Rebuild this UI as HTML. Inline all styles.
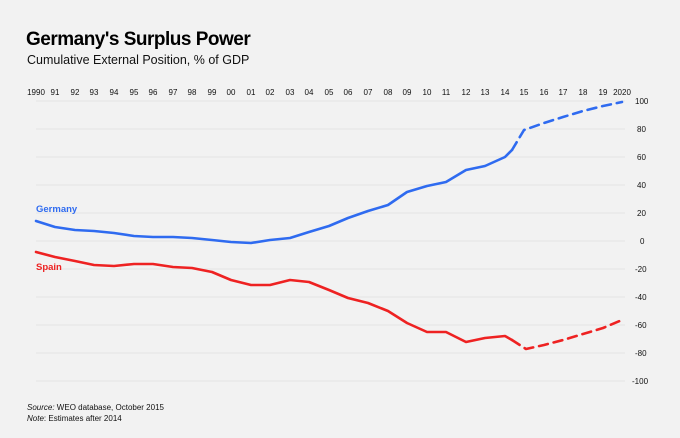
<!DOCTYPE html><html><head><style>body{margin:0;width:680px;height:433px;background:#f2f2f2;font-family:"Liberation Sans",sans-serif;overflow:hidden}</style></head><body>
<svg width="680" height="433" xmlns="http://www.w3.org/2000/svg" font-family="Liberation Sans, sans-serif">
<rect width="680" height="433" fill="#f2f2f2"/>
<text x="26" y="45" font-size="19" font-weight="bold" fill="#000" letter-spacing="-0.5">Germany's Surplus Power</text>
<text x="27" y="64" font-size="12.5" fill="#111">Cumulative External Position, % of GDP</text>
<g font-size="8" fill="#111" text-anchor="middle">
<text x="36" y="95">1990</text><text x="55" y="95">91</text><text x="75" y="95">92</text><text x="94" y="95">93</text><text x="114" y="95">94</text><text x="134" y="95">95</text><text x="153" y="95">96</text><text x="173" y="95">97</text><text x="192" y="95">98</text><text x="212" y="95">99</text><text x="231" y="95">00</text><text x="251" y="95">01</text><text x="270" y="95">02</text><text x="290" y="95">03</text><text x="309" y="95">04</text><text x="329" y="95">05</text><text x="348" y="95">06</text><text x="368" y="95">07</text><text x="388" y="95">08</text><text x="407" y="95">09</text><text x="427" y="95">10</text><text x="446" y="95">11</text><text x="466" y="95">12</text><text x="485" y="95">13</text><text x="505" y="95">14</text><text x="524" y="95">15</text><text x="544" y="95">16</text><text x="563" y="95">17</text><text x="583" y="95">18</text><text x="603" y="95">19</text><text x="622" y="95">2020</text>
</g>
<g stroke="#e4e4e4" stroke-width="1">
<line x1="36" x2="625" y1="101" y2="101"/><line x1="36" x2="625" y1="129" y2="129"/><line x1="36" x2="625" y1="157" y2="157"/><line x1="36" x2="625" y1="185" y2="185"/><line x1="36" x2="625" y1="213" y2="213"/><line x1="36" x2="625" y1="241" y2="241"/><line x1="36" x2="625" y1="269" y2="269"/><line x1="36" x2="625" y1="297" y2="297"/><line x1="36" x2="625" y1="325" y2="325"/><line x1="36" x2="625" y1="353" y2="353"/><line x1="36" x2="625" y1="381" y2="381"/>
</g>
<g font-size="8" fill="#111">
<text x="635" y="104">100</text><text x="637" y="132">80</text><text x="637" y="160">60</text><text x="637" y="188">40</text><text x="637" y="216">20</text><text x="640" y="244">0</text><text x="635" y="272">-20</text><text x="635" y="300">-40</text><text x="635" y="328">-60</text><text x="635" y="356">-80</text><text x="632" y="384">-100</text>
</g>
<g fill="none" stroke-width="2.6" stroke-linejoin="round" stroke-linecap="round">
<polyline stroke="#2f6bf0" points="36,221 55,227 75,230 94,231 114,233 134,236 153,237 173,237 192,238 212,240 231,242 251,243 270,240 290,238 309,232 329,226 348,218 368,211 388,205 407,192 427,186 446,182 466,170 485,166 505,157 512,150"/>
<polyline stroke="#2f6bf0" stroke-dasharray="9,6" points="512,150 524,130 544,123 563,117 583,111 603,106 622,102"/>
<polyline stroke="#ee2222" points="36,252 55,257 75,261 94,265 114,266 134,264 153,264 173,267 192,268 212,272 231,280 251,285 270,285 290,280 309,282 329,290 348,298 368,303 388,311 407,323 427,332 446,332 466,342 485,338 505,336 512,340"/>
<polyline stroke="#ee2222" stroke-dasharray="9,6" points="512,340 526,349 544,345 563,340 583,334 603,328 622,320"/>
</g>
<text x="36" y="212" font-size="9.5" font-weight="bold" fill="#2f6bf0">Germany</text>
<text x="36" y="270" font-size="9.5" font-weight="bold" fill="#ee2222">Spain</text>
<text x="27" y="410" font-size="8" fill="#111"><tspan font-style="italic">Source:</tspan>  WEO database, October 2015</text>
<text x="27" y="421" font-size="8" fill="#111"><tspan font-style="italic">Note</tspan>: Estimates after 2014</text>
</svg></body></html>
